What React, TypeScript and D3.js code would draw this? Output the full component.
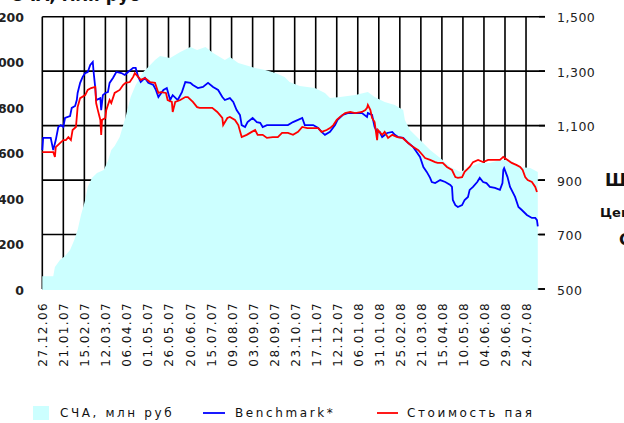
import React from "react";
import * as d3 from "d3";

const startLabel = "27.12.06";
const tickLabels = ["27.12.06","21.01.07","15.02.07","12.03.07","06.04.07","01.05.07","26.05.07","20.06.07","15.07.07","09.08.07","03.09.07","28.09.07","23.10.07","17.11.07","12.12.07","06.01.08","31.01.08","25.02.08","21.03.08","15.04.08","10.05.08","04.06.08","29.06.08","24.07.08"];
const leftTicks = [0, 200, 400, 600, 800, 1000, 1200];
const leftTickLabels = ["0", "200", "400", "600", "800", "1 000", "1 200"];
const rightTicks = [500, 700, 900, 1100, 1300, 1500];
const rightTickLabels = ["500", "700", "900", "1,100", "1,300", "1,500"];

// СЧА, млн руб (days since 27.12.06)
const navDays = [0,13,15,21,27,33,38,42,46,51,54,59,65,73,78,82,86,92,99,105,111,120,126,134,140,152,164,176,184,194,203,211,217,223,233,241,253,265,277,288,294,306,324,336,342,354,372,387,395,407,419,429,431,437,449,461,473,485,497,508,520,532,544,556,568,580,589];
const navValues = [60,60,101,132,150,176,220,264,330,396,453,492,514,527,567,615,633,673,760,848,901,958,980,1011,1029,1020,1046,1068,1055,1068,1042,1024,1011,1024,998,989,976,967,954,936,914,897,888,866,844,848,857,870,848,826,813,791,747,703,659,615,580,541,519,541,558,558,571,571,541,536,519];

// Benchmark*
const benchDays = [0,1,10,13,16,19,22,25,27,33,35,39,41,42,45,48,51,54,57,60,61,63,64,69,70,72,75,78,80,84,88,94,98,102,108,111,114,117,122,126,132,135,138,144,148,152,155,161,166,170,176,179,185,191,197,203,209,214,217,223,227,231,235,237,241,244,250,255,259,262,267,279,292,298,304,309,312,322,328,332,336,342,348,351,357,363,380,386,387,392,395,398,401,404,410,416,419,423,429,435,441,445,449,453,457,461,463,467,473,479,485,487,488,491,494,499,502,506,508,512,517,520,524,528,532,538,544,547,548,549,553,556,562,566,570,576,582,586,588,589];
const benchValues = [1010,1055,1055,1010,1047,1095,1102,1095,1128,1135,1165,1172,1194,1220,1257,1279,1293,1297,1323,1334,1297,1238,1194,1201,1157,1212,1220,1223,1257,1275,1297,1293,1286,1297,1312,1312,1279,1260,1275,1257,1249,1231,1205,1231,1238,1194,1212,1194,1223,1260,1257,1249,1238,1242,1257,1242,1231,1205,1194,1201,1187,1157,1139,1102,1095,1113,1128,1113,1110,1095,1102,1102,1102,1113,1121,1128,1102,1102,1091,1077,1066,1077,1102,1121,1139,1146,1146,1132,1146,1139,1095,1077,1077,1058,1073,1077,1066,1058,1055,1036,1021,1003,985,948,930,908,893,889,900,893,882,875,827,808,801,808,827,838,864,875,893,908,893,889,875,871,864,889,937,944,911,875,838,801,790,772,761,761,753,730];

// Стоимость пая
const priceDays = [0,13,15,16,21,25,28,31,34,36,40,42,45,51,54,58,63,64,66,69,70,71,75,76,80,82,86,92,96,99,104,108,110,114,117,122,128,134,138,141,147,149,154,155,158,164,170,173,179,184,187,196,202,208,214,215,220,223,229,233,237,243,249,253,256,262,267,274,280,285,292,298,304,309,315,322,328,332,338,342,346,350,354,360,366,372,380,384,386,387,390,392,395,398,399,404,407,411,416,422,428,431,435,441,447,452,455,461,467,470,476,481,487,491,494,499,502,508,512,518,524,530,536,544,548,553,558,564,568,571,574,577,582,586,588];
const priceValues = [1003,1003,985,1021,1036,1047,1047,1058,1047,1084,1095,1168,1201,1212,1231,1238,1242,1183,1157,1121,1066,1121,1128,1157,1194,1183,1220,1231,1249,1257,1260,1279,1293,1279,1268,1275,1260,1257,1220,1223,1220,1194,1187,1150,1187,1194,1205,1205,1187,1168,1165,1165,1165,1150,1128,1102,1128,1132,1121,1102,1058,1066,1077,1084,1066,1066,1055,1058,1058,1073,1073,1066,1077,1095,1091,1091,1091,1077,1084,1091,1102,1121,1132,1146,1150,1146,1150,1157,1165,1176,1157,1128,1113,1047,1084,1066,1077,1055,1066,1058,1055,1047,1036,1021,1010,992,981,974,966,963,963,948,937,911,908,911,930,948,966,974,966,974,974,974,985,974,963,955,948,937,911,900,893,875,856];

const legendLabels = ["СЧА, млн руб", "Benchmark*", "Стоимость пая"];
const AREA_COLOR = "#ccffff";
const BLUE = "#0000ff";
const RED = "#ff0000";
const FONT = "'DejaVu Sans', Verdana, sans-serif";

const parse = d3.timeParse("%d.%m.%y");
const start = parse(startLabel) as Date;
const toDate = (d: number) => d3.timeDay.offset(start, d);

export default function App() {
  const W = 624, H = 423;
  const x = d3.scaleTime().domain([start, toDate(589)]).range([42.3, 537.8]);
  const yL = d3.scaleLinear().domain([0, 1200]).range([290, 17]);
  const yR = d3.scaleLinear().domain([500, 1500]).range([289, 16.7]);
  const xLeft = 42.3, xRight = 545;

  const navData = navDays.map((d, i) => ({ date: toDate(d), v: navValues[i] }));
  const benchData = benchDays.map((d, i) => ({ date: toDate(d), v: benchValues[i] }));
  const priceData = priceDays.map((d, i) => ({ date: toDate(d), v: priceValues[i] }));

  const area = d3.area<{ date: Date; v: number }>()
    .x(d => x(d.date)).y0(yL(0)).y1(d => yL(d.v));
  const line = d3.line<{ date: Date; v: number }>()
    .x(d => x(d.date)).y(d => yR(d.v));

  const tickDates = tickLabels.map(t => parse(t) as Date);

  return (
    <svg width={W} height={H} style={{ position: "absolute", left: 0, top: 0, background: "#fff" }} fontFamily={FONT}>
      {/* gridlines */}
      {rightTicks.map(t => (
        <line key={"h" + t} x1={xLeft} x2={xRight} y1={yR(t)} y2={yR(t)} stroke="#000" strokeWidth={1.6} />
      ))}
      {tickDates.map((d, i) => (
        <line key={"v" + i} x1={x(d)} x2={x(d)} y1={yR(1500)} y2={yR(500)} stroke="#000" strokeWidth={1.6} />
      ))}
      <path d={area(navData) || ""} fill={AREA_COLOR} />
      <path d={line(benchData) || ""} fill="none" stroke={BLUE} strokeWidth={1.8} strokeLinejoin="miter" />
      <path d={line(priceData) || ""} fill="none" stroke={RED} strokeWidth={1.8} strokeLinejoin="miter" />
      {/* right tick marks */}
      {rightTicks.map(t => (
        <line key={"rt" + t} x1={539} x2={xRight} y1={yR(t)} y2={yR(t)} stroke="#000" strokeWidth={1.6} />
      ))}
      {/* left axis labels */}
      {leftTicks.map((t, i) => (
        <text key={"l" + t} x={24} y={yL(t)} textAnchor="end" dominantBaseline="central" fontSize={12.5} fontWeight="bold" fill="#222">{leftTickLabels[i]}</text>
      ))}
      {/* right axis labels */}
      {rightTicks.map((t, i) => (
        <text key={"r" + t} x={557} y={yR(t) + 1} textAnchor="start" dominantBaseline="central" fontSize={12.5} fill="#222" letterSpacing={0.5}>{rightTickLabels[i]}</text>
      ))}
      {/* x labels */}
      {tickDates.map((d, i) => (
        <text key={"x" + i} transform={`translate(${x(d) + 1},302) rotate(-90)`} textAnchor="end" dominantBaseline="central" fontSize={12} fill="#111" letterSpacing={1.4}>{tickLabels[i]}</text>
      ))}
      {/* cut-off title & side texts */}
      <text x={10} y={1} fontSize={17} fontWeight="bold" fill="#111">{legendLabels[0]}</text>
      <text x={605} y={186} fontSize={17} fontWeight="bold" fill="#111">Шкала</text>
      <text x={600} y={217} fontSize={13} fontWeight="bold" fill="#111">Цена</text>
      <text x={619} y={245} fontSize={16} fontWeight="bold" fill="#111">Стоимость</text>
      {/* legend */}
      <rect x={33} y={406} width={16} height={14} fill={AREA_COLOR} />
      <text x={60} y={413} dominantBaseline="central" fontSize={12} fill="#111" letterSpacing={2.6}>{legendLabels[0]}</text>
      <line x1={203} x2={225} y1={413} y2={413} stroke={BLUE} strokeWidth={1.8} />
      <text x={235} y={413} dominantBaseline="central" fontSize={12} fill="#111" letterSpacing={2.6}>{legendLabels[1]}</text>
      <line x1={377} x2={398} y1={413} y2={413} stroke={RED} strokeWidth={1.8} />
      <text x={407} y={413} dominantBaseline="central" fontSize={12} fill="#111" letterSpacing={2.6}>{legendLabels[2]}</text>
    </svg>
  );
}
